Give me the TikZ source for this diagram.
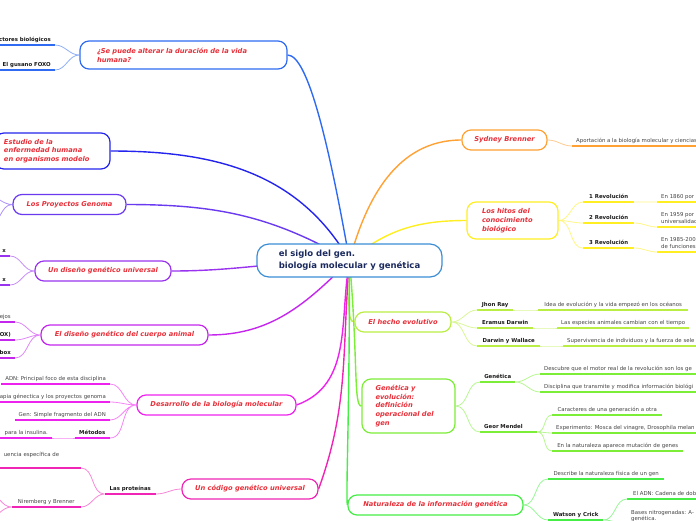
\documentclass[tikz,border=0pt]{standalone}
\usepackage{fontspec}
\setmainfont{DejaVu Sans}
\usetikzlibrary{backgrounds}
\definecolor{rojo}{HTML}{E8303A}
\definecolor{marino}{HTML}{1B2A5E}
\definecolor{azulraiz}{HTML}{3A8ED6}
\definecolor{gris}{HTML}{444444}
\definecolor{negro}{HTML}{1A1A1A}
\definecolor{c1}{HTML}{2F6BF2}
\definecolor{c2}{HTML}{2424EE}
\definecolor{c3}{HTML}{6A3AF0}
\definecolor{c4}{HTML}{9A33F0}
\definecolor{c5}{HTML}{C526EE}
\definecolor{c6}{HTML}{EE22EE}
\definecolor{c7}{HTML}{F025B5}
\definecolor{c8}{HTML}{FFA133}
\definecolor{c9}{HTML}{FFEE22}
\definecolor{c10}{HTML}{BBEE44}
\definecolor{c11}{HTML}{7CEE38}
\definecolor{c12}{HTML}{44EE44}
\begin{document}
\begin{tikzpicture}[
    x=1pt, y=1pt,
    raiz/.style={draw=azulraiz, line width=1.2pt, fill=white, rounded corners=12pt, align=left, text=marino, font=\bfseries\fontsize{8.5}{12}\selectfont, minimum width=185pt, minimum height=33pt},
    tema/.style={draw=#1, line width=1.2pt, fill=white, rounded corners=9pt, align=left, text=rojo, font=\bfseries\itshape\fontsize{6.7}{8.8}\selectfont, minimum height=20pt},
    hoja/.style={font=\fontsize{5.4}{7}\selectfont, text=gris, inner xsep=4pt, inner ysep=2pt, text depth=1.5pt, align=left},
    negra/.style={hoja, font=\bfseries\fontsize{5.4}{7}\selectfont, text=negro},
    sub/.style={append after command={(\tikzlastnode.south west) edge[draw=#1, line width=2pt] (\tikzlastnode.south east)}},
    rama/.style={draw=#1, line width=1.4pt},
    enlace/.style={draw=#1!55, line width=0.8pt},
    izq/.style={out=180, in=0},
    der/.style={out=0, in=180}
]
    \path[use as bounding box] (0,0) rectangle (696,-520);
    % nodo central
    \node[raiz] (raiz) at (349.5,-260.5) {el siglo del gen.\\biología molecular y genética};
    % temas de la izquierda
    \node[tema=c1, minimum width=207pt, minimum height=28pt, text width=173pt] (t1) at (183.5,-55) {¿Se puede alterar la duración de la vida\\humana?};
    \node[tema=c2, minimum width=115pt, minimum height=36pt, text width=97pt] (t2) at (52.5,-151) {Estudio de la\\enfermedad humana\\en organismos modelo};
    \node[tema=c3, minimum width=113pt] (t3) at (69.5,-204.5) {Los Proyectos Genoma};
    \node[tema=c4, minimum width=136pt] (t4) at (103,-271) {Un diseño genético universal};
    \node[tema=c5, minimum width=167pt] (t5) at (124.5,-335) {El diseño genético del cuerpo animal};
    \node[tema=c6, minimum width=159pt] (t6) at (216.5,-405) {Desarrollo de la biología molecular};
    \node[tema=c7, minimum width=136pt] (t7) at (250,-489) {Un código genético universal};
    % temas de la derecha
    \node[tema=c8, minimum width=85pt] (t8) at (504.5,-140) {Sydney Brenner};
    \node[tema=c9, minimum width=91pt, minimum height=37pt, text width=61pt] (t9) at (512.5,-220.5) {Los hitos del\\conocimiento\\biológico};
    \node[tema=c10, minimum width=96pt] (t10) at (403,-322) {El hecho evolutivo};
    \node[tema=c11, minimum width=93pt, minimum height=54pt, text width=66pt] (t11) at (408.5,-406) {Genética y\\evolución:\\definición\\operacional del\\gen};
    \node[tema=c12, minimum width=175pt] (t12) at (435.5,-505) {Naturaleza de la información genética};

    % ¿Se puede alterar la duración de la vida humana?
    \node[negra, sub=c1, anchor=south east] (fac) at (55,-45) {ctores biológicos};
    \node[negra, sub=c1, anchor=south east] (gus) at (55,-70) {El gusano FOXO};
    % Los Proyectos Genoma (fuera del marco)
    \coordinate (pg1) at (-12,-196);
    \coordinate (pg2) at (-12,-226);
    % Un diseño genético universal
    \node[negra, sub=c4, anchor=south east] (ud1) at (10,-256) {x};
    \node[negra, sub=c4, anchor=south east] (ud2) at (10,-285) {x};
    % El diseño genético del cuerpo animal
    \node[hoja, sub=c5, anchor=south east] (dc1) at (15,-322) {ejos};
    \node[negra, sub=c5, anchor=south east] (dc2) at (15,-340) {OX)};
    \node[negra, sub=c5, anchor=south east] (dc3) at (15,-358) {box};
    % Desarrollo de la biología molecular
    \node[hoja, sub=c6, anchor=south east] (adn) at (110,-384) {ADN: Principal foco de esta disciplina};
    \node[hoja, sub=c6, anchor=south east] (ter) at (110,-402) {apia génectica y los proyectos genoma};
    \node[hoja, sub=c6, anchor=south east] (gen) at (110,-420) {Gen: Simple fragmento del ADN};
    \node[negra, sub=c6, anchor=south east, minimum width=35pt] (met) at (110,-438) {Métodos};
    \node[hoja, sub=c6, anchor=south east] (ins) at (52,-438) {para la insulina.};
    % Un código genético universal
    \node[negra, sub=c7, anchor=south east, minimum width=51pt] (pro) at (156,-494) {Las proteínas};
    \node[hoja, sub=c7, anchor=south east, text width=73pt, text depth=9pt] (sec) at (81,-468) {uencia específica de};
    \node[hoja, sub=c7, anchor=south east, minimum width=69pt] (nir) at (81,-507) {Niremberg y Brenner};
    \coordinate (nr1) at (-12,-493);
    \coordinate (nr2) at (-12,-518);

    % Sydney Brenner
    \node[hoja, sub=c8, anchor=south west] (apo) at (572,-146) {Aportación a la biología molecular y ciencias};
    % Los hitos del conocimiento biológico
    \node[negra, sub=c9, anchor=south west, minimum width=51pt] (rv1) at (583,-202) {1 Revolución};
    \node[negra, sub=c9, anchor=south west, minimum width=51pt] (rv2) at (583,-223) {2 Revolución};
    \node[negra, sub=c9, anchor=south west, minimum width=51pt] (rv3) at (583,-248) {3 Revolución};
    \node[hoja, sub=c9, anchor=south west] (rv1t) at (657,-202) {En 1860 por};
    \node[hoja, sub=c9, anchor=south west] (rv2t) at (657,-227) {En 1959 por\\universalidad};
    \node[hoja, sub=c9, anchor=south west] (rv3t) at (657,-252) {En 1985-200\\de funciones};
    % El hecho evolutivo
    \node[negra, sub=c10, anchor=south west, minimum width=36pt] (jr) at (477,-310) {Jhon Ray};
    \node[negra, sub=c10, anchor=south west, minimum width=56pt] (ed) at (477,-328) {Eramus Darwin};
    \node[negra, sub=c10, anchor=south west, minimum width=63pt] (dw) at (477,-346) {Darwin y Wallace};
    \node[hoja, sub=c10, anchor=south west, minimum width=150pt] (jr2) at (538,-310) {Idea de evolución y la vida empezó en los océanos};
    \node[hoja, sub=c10, anchor=south west, minimum width=130pt] (ed2) at (557,-328) {Las especies animales cambian con el tiempo};
    \node[hoja, sub=c10, anchor=south west] (dw2) at (563,-346) {Supervivencia de individuos y la fuerza de sele};
    % Genética y evolución
    \node[negra, sub=c11, anchor=south west, minimum width=35pt] (gn) at (480,-382) {Genética};
    \node[negra, sub=c11, anchor=south west, text width=49pt] (gm) at (480,-432) {Geor Mendel};
    \node[hoja, sub=c11, anchor=south west] (gn1) at (540,-374) {Descubre que el motor real de la revolución son los ge};
    \node[hoja, sub=c11, anchor=south west] (gn2) at (540,-392) {Disciplina que transmite y modifica información biológi};
    \node[hoja, sub=c11, anchor=south west, minimum width=110pt] (gm1) at (552,-415) {Caracteres de una generación a otra};
    \node[hoja, sub=c11, anchor=south west] (gm2) at (552,-433) {Experimento: Mosca del vinagre, Drosophila melan};
    \node[hoja, sub=c11, anchor=south west, minimum width=131pt] (gm3) at (552,-451) {En la naturaleza aparece mutación de genes};
    % Naturaleza de la información genética
    \node[hoja, sub=c12, anchor=south west, minimum width=116pt] (nd) at (548,-479) {Describe la naturaleza física de un gen};
    \node[negra, sub=c12, anchor=south west, minimum width=55pt] (wc) at (548,-520) {Watson y Crick};
    \node[hoja, sub=c12, anchor=south west, minimum width=75pt] (wc1) at (627,-499) {El ADN: Cadena de dob};
    \node[hoja, sub=c12, anchor=south west, font=\fontsize{5.4}{6.3}\selectfont] (wc2) at (627,-524) {Bases nitrogenadas: A-\\genética.};

    \begin{scope}[on background layer]
        % ramas principales
        \draw[rama=c1] (raiz.center) to[out=100, in=0, out distance=120pt, in distance=20pt] (t1.east);
        \draw[rama=c2] (raiz.center) to[out=120, in=0] (t2.east);
        \draw[rama=c3] (raiz.center) to[out=150, in=0] (t3.east);
        \draw[rama=c4] (raiz.center) to[izq] (t4.east);
        \draw[rama=c5] (raiz.center) to[out=-135, in=0] (t5.east);
        \draw[rama=c6] (raiz.center) to[out=-100, in=20] (t6.east);
        \draw[rama=c7] (raiz.center) to[out=-95, in=70] (t7.east);
        \draw[rama=c8] (raiz.center) to[out=75, in=180] (t8.west);
        \draw[rama=c9] (raiz.center) to[out=40, in=180] (t9.west);
        \draw[rama=c10] (raiz.center) to[out=-90, in=180, out distance=40pt, in distance=8pt] (t10.west);
        \draw[rama=c11] (raiz.center) to[out=-85, in=180, out distance=100pt, in distance=8pt] (t11.west);
        \draw[rama=c12] (raiz.center) to[out=-90, in=100, out distance=160pt, in distance=10pt] (t12.west);
        % enlaces a la izquierda
        \draw[enlace=c1] (t1.west) to[izq] (fac.south east) (t1.west) to[izq] (gus.south east);
        \draw[enlace=c3] (t3.west) to[izq] (pg1) (t3.west) to[izq] (pg2);
        \draw[enlace=c4] (t4.west) to[izq] (ud1.south east) (t4.west) to[izq] (ud2.south east);
        \draw[enlace=c5] (t5.west) to[izq] (dc1.south east) (t5.west) to[izq] (dc2.south east) (t5.west) to[izq] (dc3.south east);
        \draw[enlace=c6] (t6.west) to[izq] (adn.south east) (t6.west) to[izq] (ter.south east) (t6.west) to[izq] (gen.south east) (t6.west) to[izq] (met.south east);
        \draw[enlace=c6] (met.south west) to[izq] (ins.south east);
        \draw[enlace=c7] (t7.west) to[izq] (pro.south east);
        \draw[enlace=c7] (pro.south west) to[izq] (sec.south east) (pro.south west) to[izq] (nir.south east);
        \draw[enlace=c7] (nir.south west) to[izq] (nr1) (nir.south west) to[izq] (nr2);
        % enlaces a la derecha
        \draw[enlace=c8] (t8.east) to[der] (apo.south west);
        \draw[enlace=c9] (t9.east) to[der] (rv1.south west) (t9.east) to[der] (rv2.south west) (t9.east) to[der] (rv3.south west);
        \draw[enlace=c9] (rv1.south east) to[der] (rv1t.south west) (rv2.south east) to[der] (rv2t.south west) (rv3.south east) to[der] (rv3t.south west);
        \draw[enlace=c10] (t10.east) to[der] (jr.south west) (t10.east) to[der] (ed.south west) (t10.east) to[der] (dw.south west);
        \draw[enlace=c10] (jr.south east) to[der] (jr2.south west) (ed.south east) to[der] (ed2.south west) (dw.south east) to[der] (dw2.south west);
        \draw[enlace=c11] (t11.east) to[der] (gn.south west) (t11.east) to[der] (gm.south west);
        \draw[enlace=c11] (gn.south east) to[der] (gn1.south west) (gn.south east) to[der] (gn2.south west);
        \draw[enlace=c11] (gm.south east) to[der] (gm1.south west) (gm.south east) to[der] (gm2.south west) (gm.south east) to[der] (gm3.south west);
        \draw[enlace=c12] (t12.east) to[der] (nd.south west) (t12.east) to[der] (wc.south west);
        \draw[enlace=c12] (wc.south east) to[der] (wc1.south west) (wc.south east) to[der] (wc2.south west);
    \end{scope}
\end{tikzpicture}
\end{document}
